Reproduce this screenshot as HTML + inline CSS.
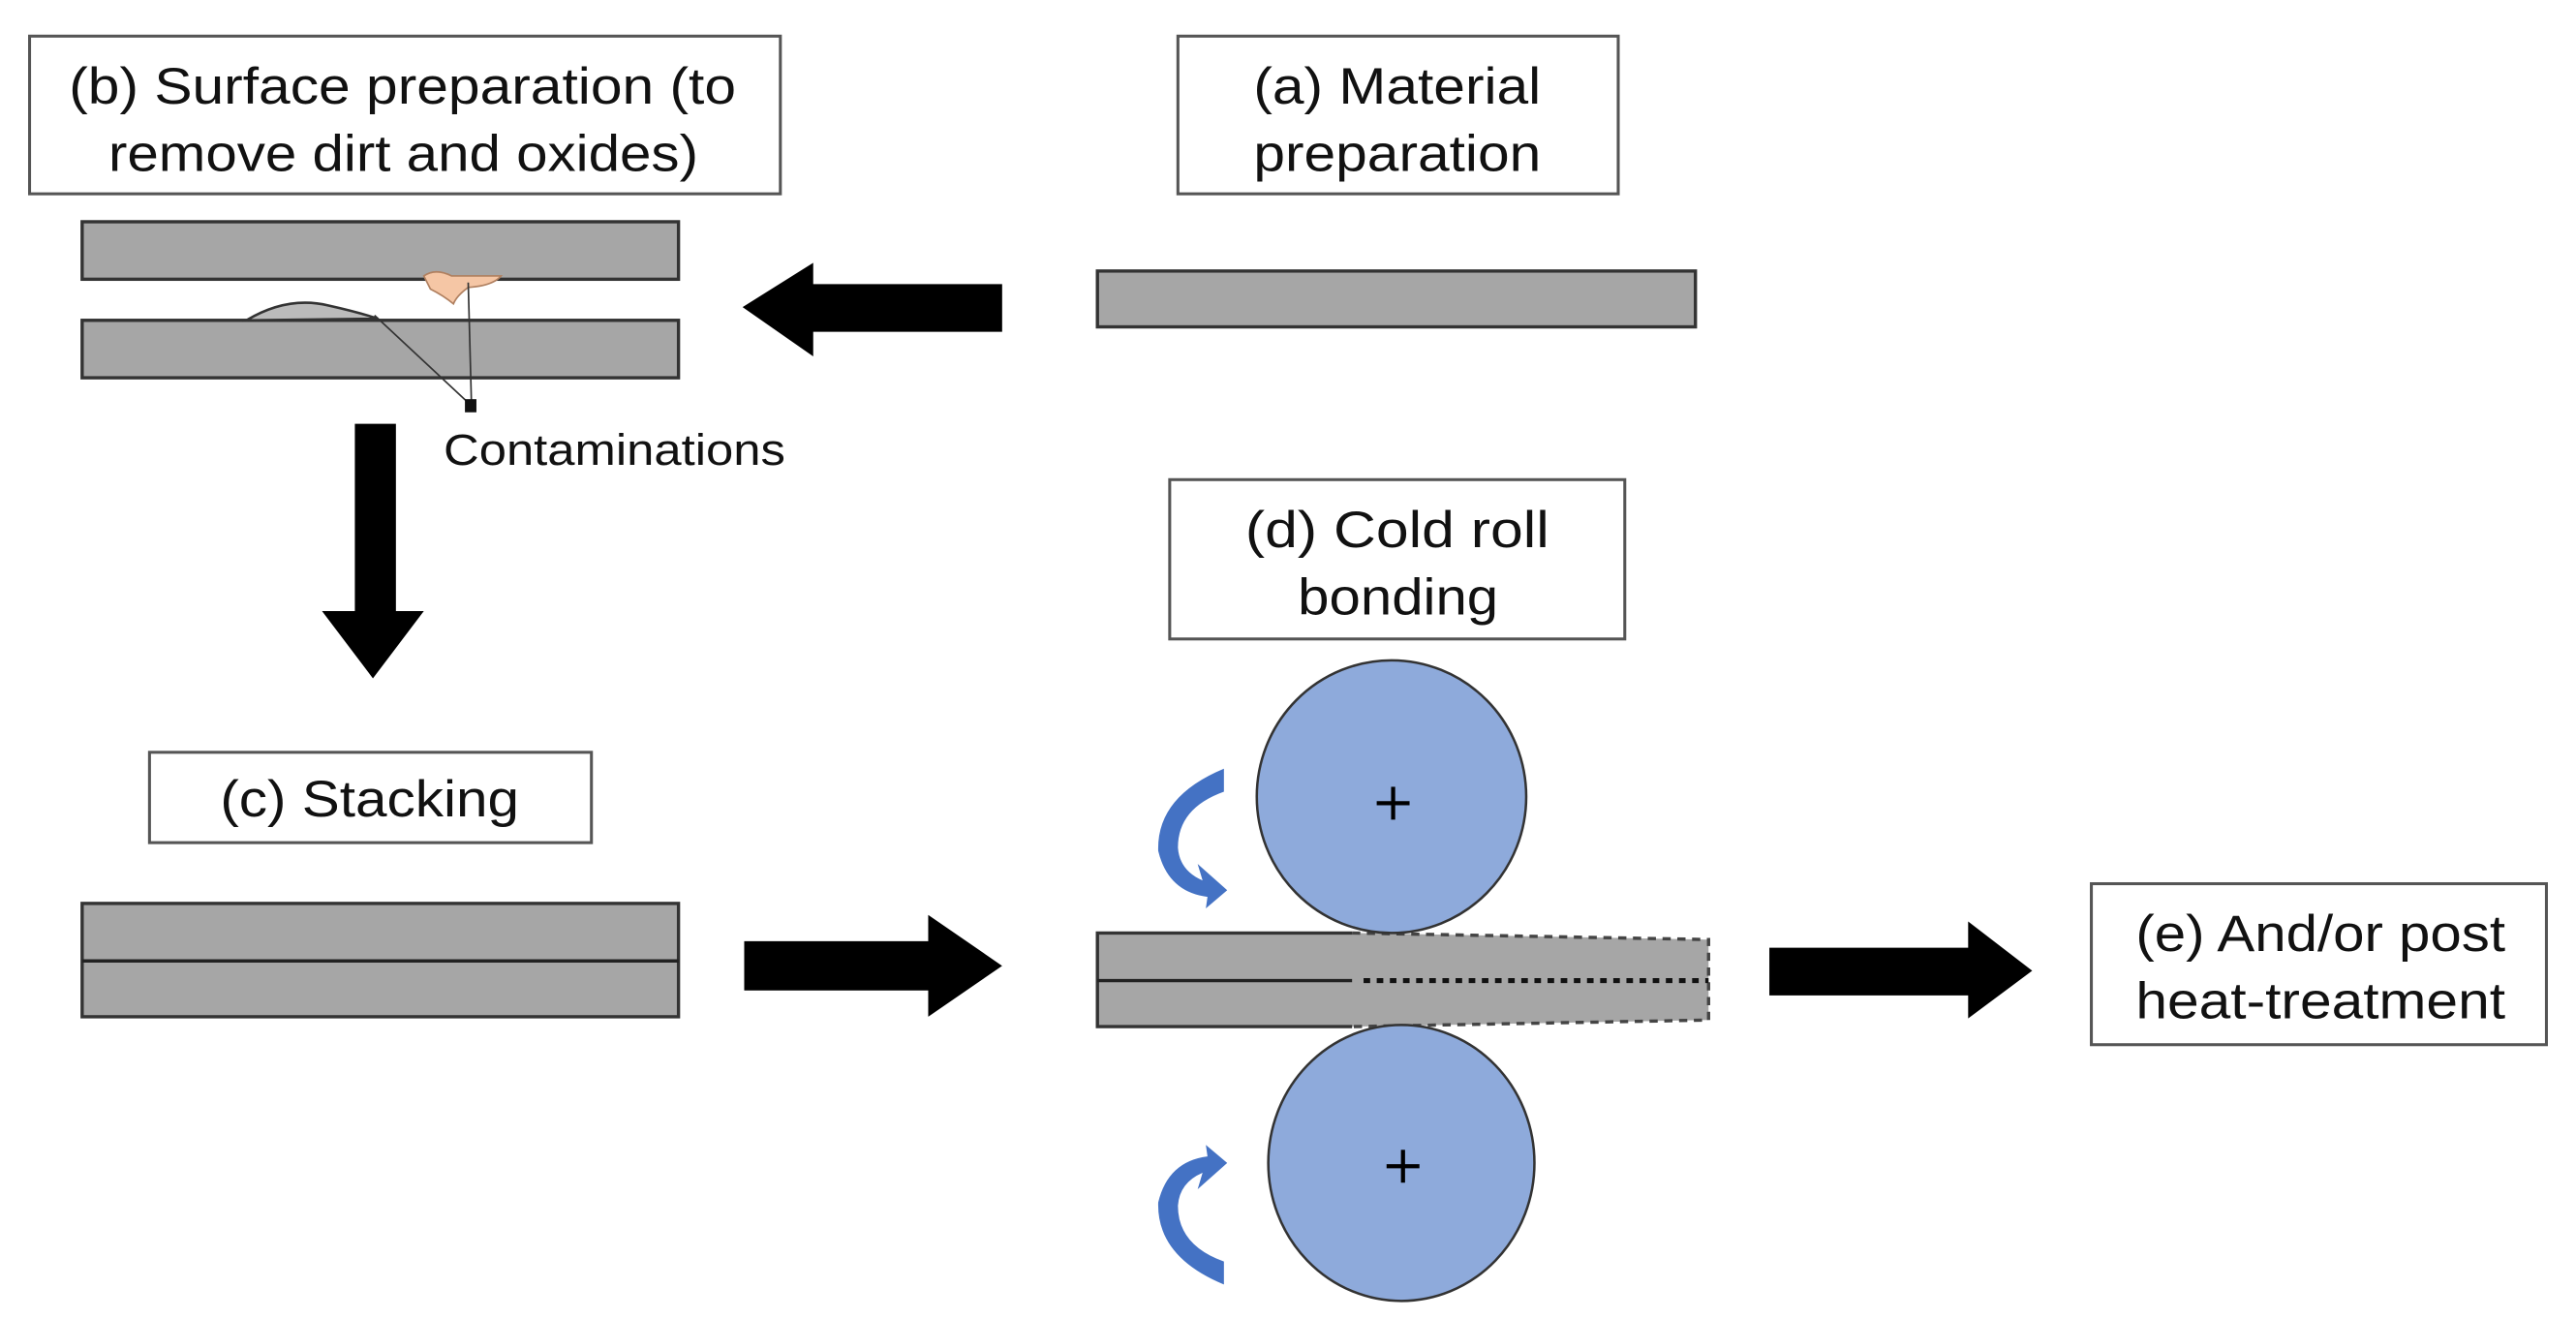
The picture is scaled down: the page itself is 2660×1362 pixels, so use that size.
<!DOCTYPE html>
<html><head><meta charset="utf-8"><style>
html,body{margin:0;padding:0;background:#fff;}
svg{display:block;}
text{font-family:"Liberation Sans",Arial,sans-serif;fill:#111;}
</style></head><body>
<svg width="2660" height="1362" viewBox="0 0 1568 803" preserveAspectRatio="none" xmlns="http://www.w3.org/2000/svg">
<rect width="1568" height="803" fill="#fff"/>
<g fill="#fff" stroke="#555" stroke-width="1.8">
<rect x="18" y="22" width="457" height="96"/>
<rect x="717" y="22" width="268" height="96"/>
<rect x="91" y="458" width="269" height="55"/>
<rect x="712" y="292" width="277" height="97"/>
<rect x="1273" y="538" width="277" height="98"/>
</g>
<g font-size="31" lengthAdjust="spacingAndGlyphs">
<text x="42" y="63" textLength="406" lengthAdjust="spacingAndGlyphs">(b) Surface preparation (to</text>
<text x="66" y="104" textLength="359" lengthAdjust="spacingAndGlyphs">remove dirt and oxides)</text>
<text x="763" y="63" textLength="175" lengthAdjust="spacingAndGlyphs">(a) Material</text>
<text x="763" y="104" textLength="175" lengthAdjust="spacingAndGlyphs">preparation</text>
<text x="134" y="497" textLength="182" lengthAdjust="spacingAndGlyphs">(c) Stacking</text>
<text x="758" y="333" textLength="185" lengthAdjust="spacingAndGlyphs">(d) Cold roll</text>
<text x="790" y="374" textLength="122" lengthAdjust="spacingAndGlyphs">bonding</text>
<text x="1300" y="579" textLength="225" lengthAdjust="spacingAndGlyphs">(e) And/or post</text>
<text x="1300" y="620" textLength="225" lengthAdjust="spacingAndGlyphs">heat-treatment</text>
<text x="270" y="283" font-size="27" textLength="208" lengthAdjust="spacingAndGlyphs">Contaminations</text>
</g>
<g fill="#a6a6a6" stroke="#333" stroke-width="2">
<rect x="50" y="135" width="363" height="35"/>
<rect x="50" y="195" width="363" height="35"/>
<rect x="668" y="165" width="364" height="34"/>
<rect x="50" y="550" width="363" height="69"/>
</g>
<line x1="50" y1="585" x2="413" y2="585" stroke="#222" stroke-width="2"/>
<path d="M150 195 Q175 180 200 186 Q218 190 230 194 Z" fill="#bbb" stroke="#333" stroke-width="1.5"/>
<path d="M258 168 Q265 163 275 168 L305 168 Q300 174 285 175 Q278 180 276 185 Q270 180 262 176 Z" fill="#f5c6a5" stroke="#b08060" stroke-width="1"/>
<line x1="285" y1="172" x2="287" y2="247" stroke="#333" stroke-width="1"/>
<line x1="228" y1="192" x2="287" y2="247" stroke="#333" stroke-width="1"/>
<rect x="283" y="243" width="7" height="8" fill="#111"/>
<polygon points="452,187 495,160 495,173 610,173 610,202 495,202 495,217" fill="#000"/>
<polygon points="216,258 241,258 241,372 258,372 227,413 196,372 216,372" fill="#000"/>
<polygon points="453,573 565,573 565,557 610,588 565,619 565,603 453,603" fill="#000"/>
<polygon points="1077,577 1198,577 1198,561 1237,591 1198,620 1198,606 1077,606" fill="#000"/>
<polygon points="668,568 823,568 1040,572 1040,621 823,625 668,625" fill="#a6a6a6"/>
<path d="M823,568 L668,568 L668,625 L823,625" fill="none" stroke="#333" stroke-width="2"/>
<line x1="668" y1="597" x2="823" y2="597" stroke="#222" stroke-width="2"/>
<path d="M823,568 L1040,572 L1040,621 L823,625" fill="none" stroke="#444" stroke-width="2" stroke-dasharray="5,4"/>
<line x1="830" y1="597" x2="1040" y2="597" stroke="#111" stroke-width="3" stroke-dasharray="4,4"/>
<ellipse cx="847" cy="485" rx="82" ry="83" fill="#8eaadb" stroke="#333" stroke-width="1.5"/>
<ellipse cx="853" cy="708" rx="81" ry="84" fill="#8eaadb" stroke="#333" stroke-width="1.5"/>
<g stroke="#000" stroke-width="2.5">
<line x1="838" y1="489" x2="858" y2="489"/><line x1="848" y1="479" x2="848" y2="499"/>
<line x1="844" y1="710" x2="864" y2="710"/><line x1="854" y1="700" x2="854" y2="720"/>
</g>
<path d="M745,482 Q717,492 717,516 Q718,530 732,536 L729,526 L747,542 L734,553 L735,546 Q711,543 705,518 Q704,485 745,468 Z" fill="#4472c4"/>
<path d="M745,768 Q717,758 717,734 Q718,720 732,714 L729,724 L747,708 L734,697 L735,704 Q711,707 705,732 Q704,765 745,782 Z" fill="#4472c4"/>
</svg>
</body></html>
